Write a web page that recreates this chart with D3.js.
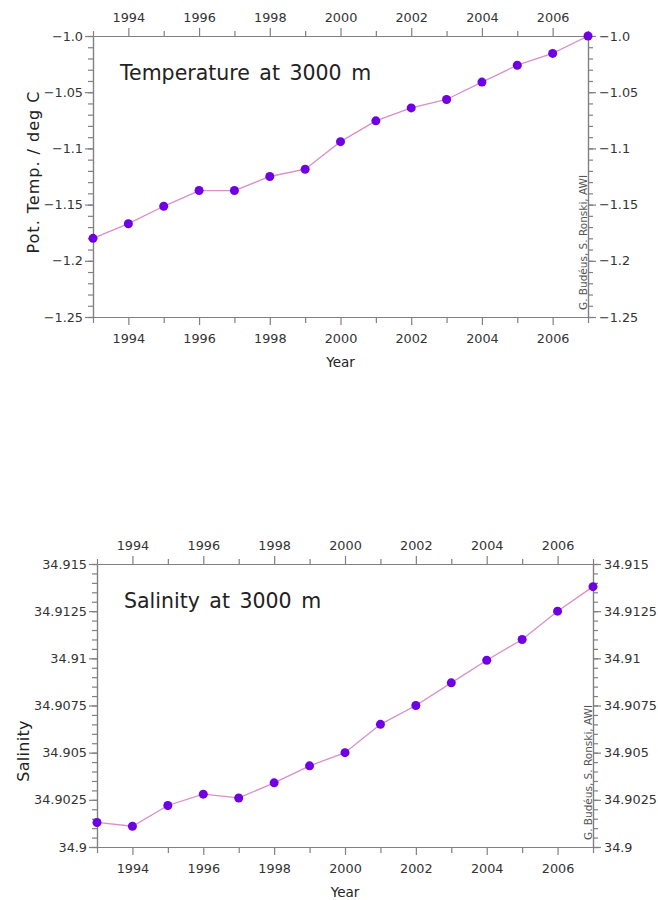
<!DOCTYPE html>
<html>
<head>
<meta charset="utf-8">
<script src="https://cdn.jsdelivr.net/npm/d3@7"></script>
<style>
  body { margin: 0; background: #fff; }
  svg { display: block; }
  text { font-family: "DejaVu Sans", sans-serif; }
</style>
</head>
<body>
<svg id="chart" width="658" height="900"></svg>
<script>
// ---- data ----
const years = [1993, 1994, 1995, 1996, 1997, 1998, 1999, 2000, 2001, 2002, 2003, 2004, 2005, 2006, 2007];
const temperature = [-1.180, -1.167, -1.1515, -1.1375, -1.1375, -1.125, -1.1185, -1.094, -1.0755, -1.064, -1.0565, -1.041, -1.026, -1.0155, -1.000];
const salinity = [34.9013, 34.9011, 34.9022, 34.9028, 34.9026, 34.9034, 34.9043, 34.9050, 34.9065, 34.9075, 34.9087, 34.9099, 34.9110, 34.9125, 34.9138];

const yearMajorTicks = [1994, 1996, 1998, 2000, 2002, 2004, 2006];
const yearMinorTicks = [1993, 1995, 1997, 1999, 2001, 2003, 2005, 2007];

const tempTicks = [-1.0, -1.05, -1.1, -1.15, -1.2, -1.25];
const tempTickLabels = ["\u22121.0", "\u22121.05", "\u22121.1", "\u22121.15", "\u22121.2", "\u22121.25"];
const salTicks = [34.915, 34.9125, 34.91, 34.9075, 34.905, 34.9025, 34.9];
const salTickLabels = ["34.915", "34.9125", "34.91", "34.9075", "34.905", "34.9025", "34.9"];

const titles = ["Temperature at 3000 m", "Salinity at 3000 m"];
const yLabels = ["Pot. Temp. / deg C", "Salinity"];
const xLabel = "Year";
const credit = "G. Bud\u00e9us, S. Ronski, AWI";

// ---- drawing ----
const svg = d3.select("#chart");
const axisColor = "#808080";
const labelColor = "#333";
const lineColor = "#d98fc8";
const dotColor = "#7000e4";

function drawPanel(o) {
  const x = d3.scaleLinear().domain([1993, 2007]).range([o.left, o.right]);
  const y = d3.scaleLinear().domain(o.domain).range([o.bottom, o.top]);
  const g = svg.append("g");

  const styleAxis = sel => {
    sel.select(".domain").attr("stroke", axisColor).attr("stroke-width", 1.2);
    sel.selectAll(".tick line").attr("stroke", axisColor).attr("stroke-width", 1.2);
    sel.selectAll(".tick text").attr("fill", labelColor).style("font-size", "12.8px")
      .style("font-family", "'DejaVu Sans', sans-serif");
  };

  // minor ticks
  const minorY = d3.range(0, o.nMinorY + 1).map(i => o.domain[0] + i * o.minorStep);
  g.append("g").attr("transform", `translate(${o.left},0)`)
    .call(d3.axisLeft(y).tickValues(minorY).tickSize(5).tickFormat("").tickSizeOuter(0)).call(styleAxis);
  g.append("g").attr("transform", `translate(${o.right},0)`)
    .call(d3.axisRight(y).tickValues(minorY).tickSize(5).tickFormat("").tickSizeOuter(0)).call(styleAxis);
  g.append("g").attr("transform", `translate(0,${o.top})`)
    .call(d3.axisTop(x).tickValues(yearMinorTicks).tickSize(5).tickFormat("").tickSizeOuter(0)).call(styleAxis);
  g.append("g").attr("transform", `translate(0,${o.bottom})`)
    .call(d3.axisBottom(x).tickValues(yearMinorTicks).tickSize(6).tickFormat("").tickSizeOuter(0)).call(styleAxis);

  // major ticks
  const fmtY = v => o.tickLabels[o.ticks.findIndex(t => Math.abs(t - v) < 1e-9)];
  g.append("g").attr("transform", `translate(${o.left},0)`)
    .call(d3.axisLeft(y).tickValues(o.ticks).tickSize(8).tickPadding(2).tickFormat(fmtY).tickSizeOuter(0)).call(styleAxis);
  g.append("g").attr("transform", `translate(${o.right},0)`)
    .call(d3.axisRight(y).tickValues(o.ticks).tickSize(8).tickPadding(3).tickFormat(fmtY).tickSizeOuter(0)).call(styleAxis);
  g.append("g").attr("transform", `translate(0,${o.top})`)
    .call(d3.axisTop(x).tickValues(yearMajorTicks).tickSize(8).tickPadding(6).tickFormat(d3.format("d")).tickSizeOuter(0)).call(styleAxis);
  g.append("g").attr("transform", `translate(0,${o.bottom})`)
    .call(d3.axisBottom(x).tickValues(yearMajorTicks).tickSize(8).tickPadding(9).tickFormat(d3.format("d")).tickSizeOuter(0)).call(styleAxis);

  // line
  const pts = years.map((yr, i) => [yr, o.values[i]]);
  g.append("path").datum(pts)
    .attr("fill", "none").attr("stroke", lineColor).attr("stroke-width", 1.3)
    .attr("d", d3.line().x(d => x(d[0])).y(d => y(d[1])));
  g.selectAll("circle.pt").data(pts).join("circle")
    .attr("class", "pt").attr("cx", d => x(d[0])).attr("cy", d => y(d[1]))
    .attr("r", 4.5).attr("fill", dotColor);

  // title
  g.append("text").attr("x", o.left + 27).attr("y", o.titleY)
    .style("font-size", "20.5px").style("word-spacing", "3px").attr("fill", "#222").text(o.title);

  // axis labels
  g.append("text").attr("x", (o.left + o.right) / 2).attr("y", o.bottom + 50)
    .attr("text-anchor", "middle").style("font-size", "13.5px").attr("fill", "#222").text(xLabel);
  g.append("text")
    .attr("transform", `translate(${o.yLabelX},${o.yLabelY}) rotate(-90)`)
    .attr("text-anchor", "middle").style("font-size", "16px").style("letter-spacing", o.yLabelSpacing)
    .attr("fill", "#222").text(o.yLabel);

  // credit
  g.append("text")
    .attr("transform", `translate(${o.right - 1.5},${o.bottom - 7}) rotate(-90)`)
    .attr("text-anchor", "start").style("font-size", "10.5px").attr("fill", "#555").text(credit);
}

drawPanel({
  left: 93, right: 588, top: 36, bottom: 317,
  domain: [-1.25, -1.0], ticks: tempTicks, tickLabels: tempTickLabels,
  minorStep: 0.01, nMinorY: 25,
  values: temperature, title: titles[0], titleY: 80,
  yLabel: yLabels[0], yLabelX: 38.5, yLabelY: 172, yLabelSpacing: "1px"
});

drawPanel({
  left: 97, right: 593, top: 564, bottom: 847,
  domain: [34.9, 34.915], ticks: salTicks, tickLabels: salTickLabels,
  minorStep: 0.0005, nMinorY: 30,
  values: salinity, title: titles[1], titleY: 608,
  yLabel: yLabels[1], yLabelX: 28.5, yLabelY: 751, yLabelSpacing: "0.3px"
});
</script>
</body>
</html>
